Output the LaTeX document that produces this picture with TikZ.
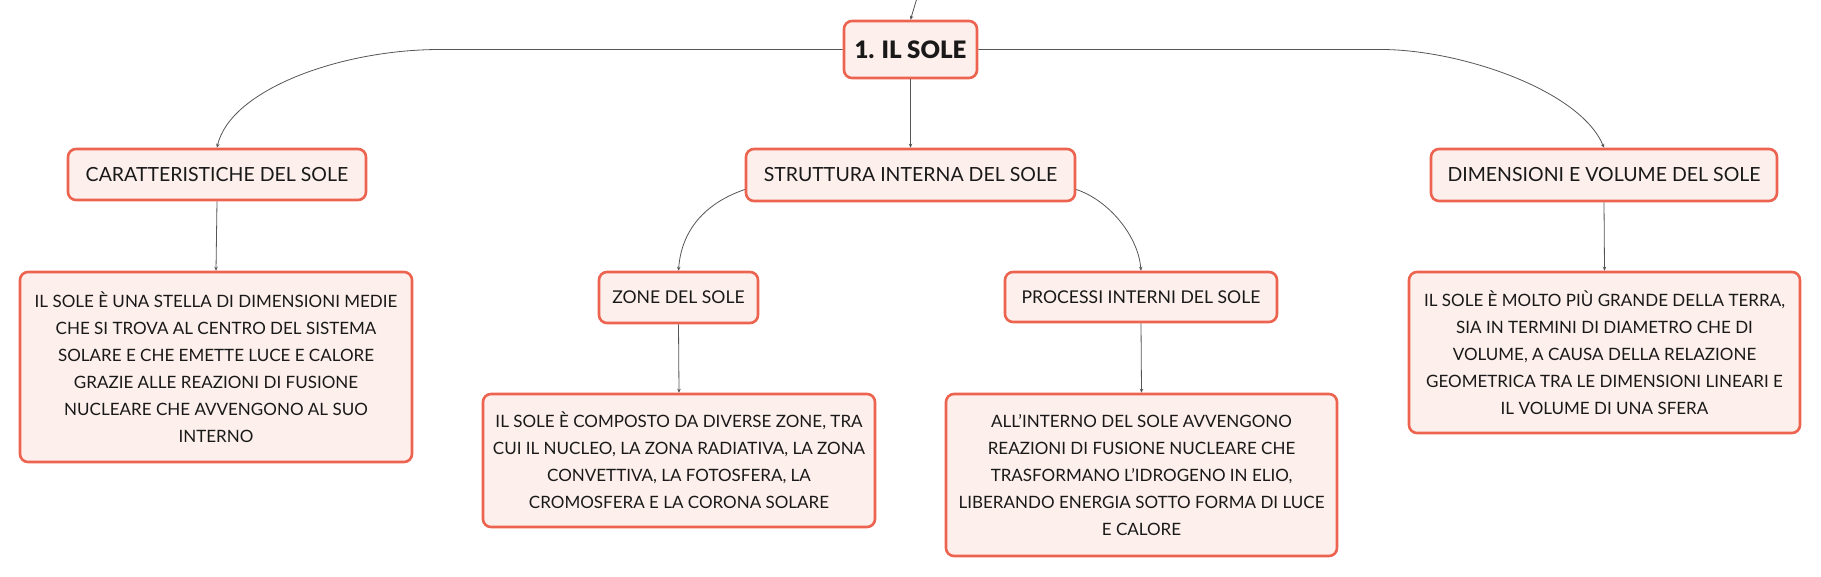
\documentclass[tikz,border=0pt]{standalone}
\usepackage{fontspec}
\setmainfont{Lato}
\IfFontExistsTF{Lato Black}{\newfontfamily\soleheavy{Lato Black}}{\newcommand\soleheavy{\bfseries}}
\usetikzlibrary{arrows.meta}

\definecolor{soleborder}{HTML}{EC6450}
\definecolor{solefill}{HTML}{FDEFEB}
\definecolor{soleline}{HTML}{555555}

\begin{document}
\begin{tikzpicture}[
    x=1pt, y=-1pt,
    every node/.style={font=\fontsize{17}{27}\selectfont, text=black!90},
    topic/.style={draw=soleborder, fill=solefill, line width=2.6pt, rounded corners=8pt, align=center, inner sep=0pt},
    main/.style={topic, font=\fontsize{19.5}{24}\selectfont},
    sub/.style={topic, font=\fontsize{17.6}{22}\selectfont},
    link/.style={draw=soleline, line width=0.8pt, -{Stealth[length=4pt, width=3.5pt]}}
]
    \useasboundingbox (0,0) rectangle (1821,577);

    % main topic
    \node[topic, minimum width=133, minimum height=57, font=\fontsize{24}{28}\selectfont\soleheavy] (sole) at (910.5,49.5) {1. IL SOLE};
    \coordinate (above) at (917,-2);

    % first level
    \node[main, minimum width=298, minimum height=51] (car) at (217,174.5) {CARATTERISTICHE DEL SOLE};
    \node[main, minimum width=329, minimum height=52] (str) at (910.5,175) {STRUTTURA INTERNA DEL SOLE};
    \node[main, minimum width=346, minimum height=52] (dim) at (1604,175) {DIMENSIONI E VOLUME DEL SOLE};

    % second level
    \node[topic, minimum width=392, minimum height=190] (cardesc) at (216,367)
        {IL SOLE È UNA STELLA DI DIMENSIONI MEDIE\\CHE SI TROVA AL CENTRO DEL SISTEMA\\SOLARE E CHE EMETTE LUCE E CALORE\\GRAZIE ALLE REAZIONI DI FUSIONE\\NUCLEARE CHE AVVENGONO AL SUO\\INTERNO};
    \node[sub, minimum width=159, minimum height=51] (zone) at (678.5,297.5) {ZONE DEL SOLE};
    \node[sub, minimum width=272, minimum height=50] (proc) at (1141,297) {PROCESSI INTERNI DEL SOLE};
    \node[topic, minimum width=391, minimum height=161] (dimdesc) at (1604.5,352.5)
        {IL SOLE È MOLTO PIÙ GRANDE DELLA TERRA,\\SIA IN TERMINI DI DIAMETRO CHE DI\\VOLUME, A CAUSA DELLA RELAZIONE\\GEOMETRICA TRA LE DIMENSIONI LINEARI E\\IL VOLUME DI UNA SFERA};

    % third level
    \node[topic, minimum width=392, minimum height=133] (zonedesc) at (679,460.5)
        {IL SOLE È COMPOSTO DA DIVERSE ZONE, TRA\\CUI IL NUCLEO, LA ZONA RADIATIVA, LA ZONA\\CONVETTIVA, LA FOTOSFERA, LA\\CROMOSFERA E LA CORONA SOLARE};
    \node[topic, minimum width=391, minimum height=162] (procdesc) at (1141.5,475)
        {ALL'INTERNO DEL SOLE AVVENGONO\\REAZIONI DI FUSIONE NUCLEARE CHE\\TRASFORMANO L'IDROGENO IN ELIO,\\LIBERANDO ENERGIA SOTTO FORMA DI LUCE\\E CALORE};

    % connectors
    \draw[link] (above) -- (sole.north);
    \draw[link] (sole.west) -- (440,49.5) .. controls (340,49.5) and (230,90) .. (car.north);
    \draw[link] (sole.east) -- (1381,49.5) .. controls (1460,49.5) and (1580,90) .. (dim.north);
    \draw[link] (sole.south) -- (str.north);
    \draw[link] (str.185) .. controls (700,205) and (681,235) .. (zone.north);
    \draw[link] (str.355) .. controls (1108,200) and (1138,235) .. (proc.north);
    \draw[link] (car.south) -- (cardesc.north);
    \draw[link] (dim.south) -- (dimdesc.north);
    \draw[link] (zone.south) -- (zonedesc.north);
    \draw[link] (proc.south) -- (procdesc.north);
\end{tikzpicture}
\end{document}
